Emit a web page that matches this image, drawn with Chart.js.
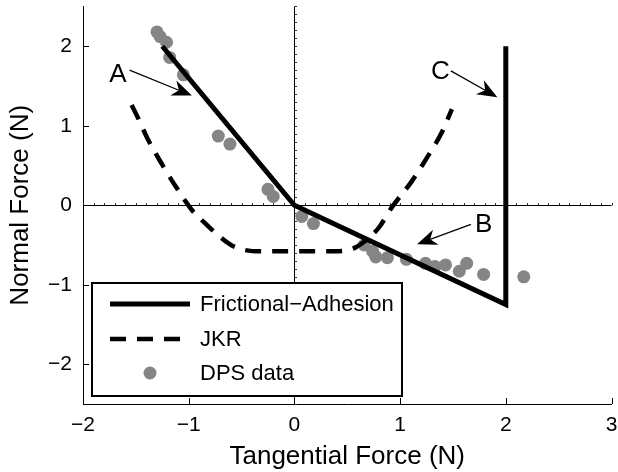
<!DOCTYPE html>
<html>
<head>
<meta charset="utf-8">
<script src="https://cdn.jsdelivr.net/npm/chart.js@4.4.0/dist/chart.umd.min.js"></script>
<style>
  html, body { margin: 0; padding: 0; background: #fff; }
  canvas { display: block; }
</style>
</head>
<body>
<canvas id="c" width="618" height="472"></canvas>
<script>
// Normal vs tangential force (MATLAB-style figure)
const FONT = '"Liberation Sans", Arial, Helvetica, sans-serif';

const xTicks = [-2, -1, 0, 1, 2, 3];
const yTicks = [-2, -1, 0, 1, 2];

// Frictional-Adhesion model: two limit lines + vertical cut-off
const faX = [-1.25, 0, 2, 2];
const faY = [2.0, 0, -1.25, 2.0];

// JKR curve
const jkrX = [-1.54, -1.48, -1.39, -1.25, -1.11, -0.97, -0.85, -0.72, -0.6, -0.48, -0.3, 0, 0.3, 0.48, 0.58, 0.66, 0.73, 0.8, 0.92, 1.11, 1.25, 1.4, 1.49];
const jkrY = [1.26, 1.1, 0.84, 0.51, 0.21, -0.06, -0.22, -0.38, -0.5, -0.56, -0.58, -0.58, -0.58, -0.57, -0.53, -0.46, -0.38, -0.28, -0.03, 0.3, 0.59, 0.93, 1.21];

// DPS measurements
const dpsX = [-1.3, -1.27, -1.21, -1.18, -1.05, -0.72, -0.61, -0.25, -0.2, 0.07, 0.18, 0.66, 0.74, 0.77, 0.88, 1.06, 1.24, 1.33, 1.43, 1.56, 1.63, 1.79, 2.17];
const dpsY = [2.18, 2.12, 2.05, 1.86, 1.64, 0.87, 0.77, 0.2, 0.11, -0.14, -0.23, -0.5, -0.58, -0.65, -0.66, -0.68, -0.73, -0.77, -0.75, -0.83, -0.73, -0.87, -0.9];

// Annotation letters with arrows (data coordinates)
const noteLabels = ['A', 'B', 'C'];
const noteText = [[-1.67, 1.64], [1.79, -0.25], [1.38, 1.68]];
const noteFrom = [[-1.56, 1.70], [1.67, -0.24], [1.48, 1.69]];
const noteTo = [[-0.97, 1.38], [1.16, -0.49], [1.92, 1.36]];

const pts = (xs, ys) => xs.map((x, i) => ({ x, y: ys[i] }));
const minus = v => String(v).replace('-', '\u2212');

// MATLAB 风格：刻度朝内、零线上的小刻度
const MatlabAxesPlugin = {
  id: 'matlabAxes',
  beforeDatasetsDraw(chart) {
    const { ctx, scales: { x, y } } = chart;
    const x0 = Math.round(x.getPixelForValue(0)) + 0.5;
    const y0 = Math.round(y.getPixelForValue(0)) + 0.5;
    ctx.save();
    ctx.strokeStyle = '#333';
    ctx.lineWidth = 1;
    ctx.beginPath();
    for (let v = -2; v <= 3.001; v += 0.1) {
      const px = Math.round(x.getPixelForValue(v)) + 0.5;
      ctx.moveTo(px, y0 - 2.5);
      ctx.lineTo(px, y0);
    }
    for (let v = -2.5; v <= 2.501; v += 0.1) {
      const py = Math.round(y.getPixelForValue(v)) + 0.5;
      ctx.moveTo(x0, py);
      ctx.lineTo(x0 + 2.5, py);
    }
    ctx.stroke();
    ctx.restore();
  },
  afterDraw(chart) {
    const { ctx, chartArea: a, scales: { x, y } } = chart;
    ctx.save();
    ctx.strokeStyle = '#000';
    ctx.lineWidth = 1;
    ctx.beginPath();
    xTicks.forEach(v => {
      const px = Math.round(x.getPixelForValue(v)) + 0.5;
      ctx.moveTo(px, a.bottom);
      ctx.lineTo(px, a.bottom - 6);
    });
    yTicks.forEach(v => {
      const py = Math.round(y.getPixelForValue(v)) + 0.5;
      ctx.moveTo(a.left, py);
      ctx.lineTo(a.left + 6, py);
    });
    ctx.stroke();
    ctx.restore();
  }
};

// 字母 + 箭头
const NotesPlugin = {
  id: 'notes',
  afterDatasetsDraw(chart) {
    const { ctx, scales: { x, y } } = chart;
    ctx.save();
    ctx.fillStyle = '#000';
    ctx.strokeStyle = '#000';
    ctx.font = '26px ' + FONT;
    ctx.textAlign = 'center';
    ctx.textBaseline = 'middle';
    noteLabels.forEach((lab, i) => {
      ctx.fillText(lab, x.getPixelForValue(noteText[i][0]), y.getPixelForValue(noteText[i][1]));
      const sx = x.getPixelForValue(noteFrom[i][0]), sy = y.getPixelForValue(noteFrom[i][1]);
      const tx = x.getPixelForValue(noteTo[i][0]), ty = y.getPixelForValue(noteTo[i][1]);
      const len = Math.hypot(tx - sx, ty - sy);
      const ux = (tx - sx) / len, uy = (ty - sy) / len;
      const nx = -uy, ny = ux;
      const L = 20, W = 8, notch = 6;
      ctx.lineWidth = 1.3;
      ctx.beginPath();
      ctx.moveTo(sx, sy);
      ctx.lineTo(tx - (L - notch) * ux, ty - (L - notch) * uy);
      ctx.stroke();
      ctx.beginPath();
      ctx.moveTo(tx, ty);
      ctx.lineTo(tx - L * ux + W * nx, ty - L * uy + W * ny);
      ctx.lineTo(tx - (L - notch) * ux, ty - (L - notch) * uy);
      ctx.lineTo(tx - L * ux - W * nx, ty - L * uy - W * ny);
      ctx.closePath();
      ctx.fill();
    });
    ctx.restore();
  }
};

// 图例框（左下角，画在数据之上）
const BoxLegendPlugin = {
  id: 'boxLegend',
  afterDraw(chart) {
    const { ctx, chartArea: a } = chart;
    const left = a.left + 9, top = a.bottom - 121, w = 310, h = 113;
    ctx.save();
    ctx.fillStyle = '#fff';
    ctx.fillRect(left, top, w, h);
    ctx.strokeStyle = '#000';
    ctx.lineWidth = 2;
    ctx.strokeRect(left, top, w, h);
    ctx.font = '22px ' + FONT;
    ctx.textAlign = 'left';
    ctx.textBaseline = 'middle';
    const rows = [top + 21, top + 56, top + 90];
    chart.data.datasets.forEach((ds, i) => {
      const ry = rows[i];
      if (ds.showLine) {
        ctx.strokeStyle = ds.borderColor;
        ctx.lineWidth = ds.borderWidth;
        ctx.setLineDash(ds.borderDash || []);
        ctx.beginPath();
        ctx.moveTo(left + 18, ry);
        ctx.lineTo(left + 98, ry);
        ctx.stroke();
        ctx.setLineDash([]);
      } else {
        ctx.fillStyle = ds.backgroundColor;
        ctx.beginPath();
        ctx.arc(left + 58, ry, ds.pointRadius, 0, Math.PI * 2);
        ctx.fill();
      }
      ctx.fillStyle = '#000';
      ctx.fillText(ds.label, left + 108, ry + 1);
    });
    ctx.restore();
  }
};

Chart.register(MatlabAxesPlugin, NotesPlugin, BoxLegendPlugin);

new Chart(document.getElementById('c'), {
  type: 'scatter',
  data: {
    datasets: [
      {
        label: 'Frictional\u2212Adhesion',
        data: pts(faX, faY),
        showLine: true,
        borderColor: '#000',
        backgroundColor: '#000',
        borderWidth: 5,
        pointRadius: 0,
        borderJoinStyle: 'miter'
      },
      {
        label: 'JKR',
        data: pts(jkrX, jkrY),
        showLine: true,
        borderColor: '#000',
        backgroundColor: '#000',
        borderWidth: 4.5,
        borderDash: [16, 11],
        cubicInterpolationMode: 'monotone',
        pointRadius: 0
      },
      {
        label: 'DPS data',
        data: pts(dpsX, dpsY),
        showLine: false,
        backgroundColor: '#858585',
        borderColor: '#858585',
        borderWidth: 0,
        pointRadius: 6.5
      }
    ]
  },
  options: {
    responsive: false,
    animation: false,
    layout: { padding: { left: 0, right: 4, top: 4, bottom: 0 } },
    plugins: {
      legend: { display: false },
      tooltip: { enabled: false }
    },
    scales: {
      x: {
        type: 'linear',
        min: -2, max: 3,
        afterBuildTicks: s => { s.ticks = xTicks.map(v => ({ value: v })); },
        afterFit: s => { s.height = 68; s.paddingLeft = 0; s.paddingRight = 0; },
        grid: {
          drawTicks: false,
          color: c => (c.tick && c.tick.value === 0) ? '#000' : 'rgba(0,0,0,0)'
        },
        border: { color: '#000', width: 1 },
        ticks: {
          padding: 9,
          color: '#000',
          font: { family: FONT, size: 21 },
          callback: v => minus(v)
        },
        title: {
          display: true,
          text: 'Tangential Force (N)',
          color: '#000',
          font: { family: FONT, size: 26 },
          padding: { top: 0, bottom: 0 }
        }
      },
      y: {
        type: 'linear',
        min: -2.5, max: 2.5,
        afterBuildTicks: s => { s.ticks = yTicks.map(v => ({ value: v })); },
        afterFit: s => { s.width = 83; s.paddingTop = 0; s.paddingBottom = 0; },
        grid: {
          drawTicks: false,
          color: c => (c.tick && c.tick.value === 0) ? '#000' : 'rgba(0,0,0,0)'
        },
        border: { color: '#000', width: 1 },
        ticks: {
          padding: 11,
          color: '#000',
          font: { family: FONT, size: 21 },
          callback: v => minus(v)
        },
        title: {
          display: true,
          text: 'Normal Force (N)',
          color: '#000',
          font: { family: FONT, size: 26 },
          padding: { top: 5, bottom: 0 }
        }
      }
    }
  }
});
</script>
</body>
</html>
